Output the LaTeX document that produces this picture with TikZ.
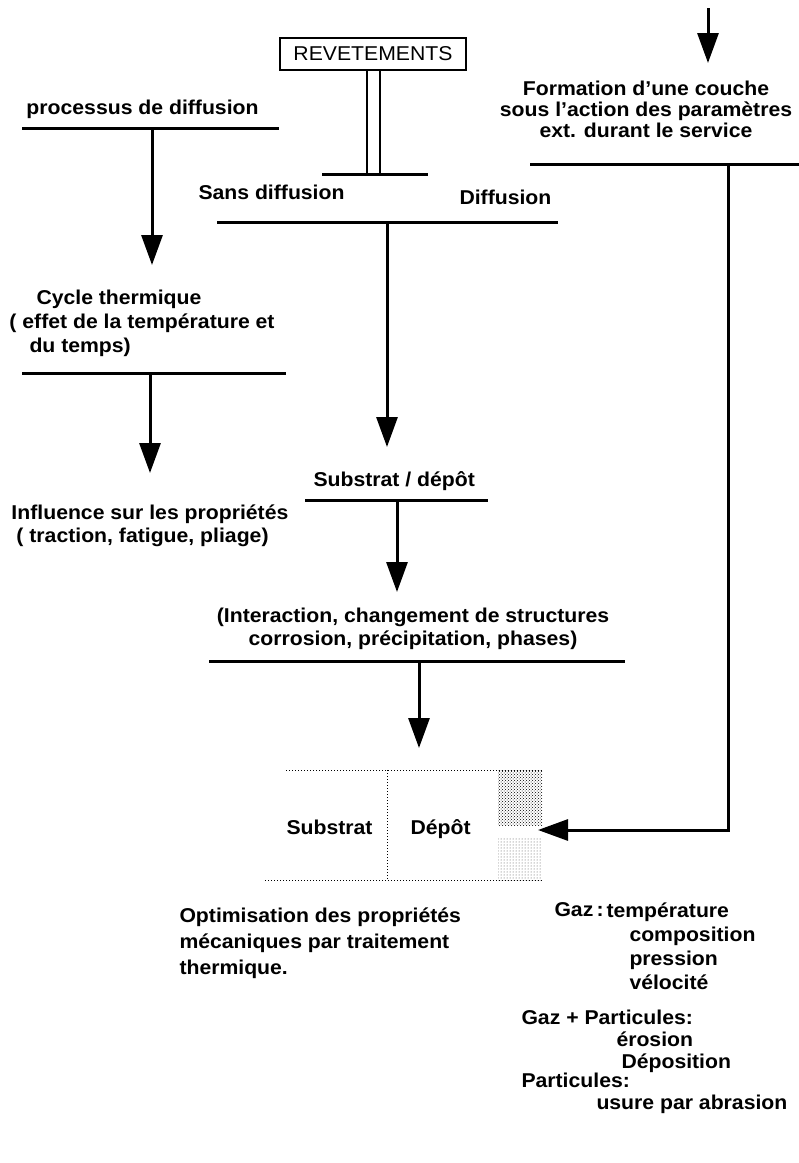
\documentclass[tikz,border=0pt]{standalone}
\usepackage{fontspec}
\setmainfont{Liberation Sans}[FakeStretch=1.06]
\usetikzlibrary{arrows.meta,patterns}
\begin{document}
\begin{tikzpicture}[x=1pt,y=-1pt,line width=3pt,
		font=\bfseries\fontsize{20}{24}\selectfont,
		fl/.style={-{Triangle[length=30pt,width=21pt]}},
		lbl/.style={inner sep=0pt,anchor=base west},
		blk/.style={inner sep=0pt,anchor=north west,align=left}]
	\useasboundingbox (0,0) rectangle (799,1163);
	% revetements
	\node[draw,line width=2.5pt,minimum width=186pt,minimum height=32pt,inner sep=0pt,font=\mdseries\fontsize{20}{24}\selectfont] (rev) at (373,54) {REVETEMENTS};
	\draw[line width=2pt] ([xshift=-6.5pt]rev.south)--++(0,103) ([xshift=6.5pt]rev.south)--++(0,103);
	\draw (322,174)--(428,174);
	\node[lbl] (sans) at (197,199) {Sans diffusion};
	\node[lbl] (diff) at (458,204) {Diffusion};
	\draw (217,222)--(558,222);
	\draw[fl] (387,222)--(387,447);
	% colonne gauche
	\node[lbl] (proc) at (25,114) {processus de diffusion};
	\draw (22,128)--(279,128);
	\draw[fl] (152,128)--(152,265);
	\node[blk] (cyc) at (8,288.4) {\hspace{27pt}Cycle thermique\\( effet de la température et\\\hspace{20pt}du temps)};
	\draw (22,373)--(286,373);
	\draw[fl] (150,373)--(150,473);
	\node[blk,font=\bfseries\fontsize{20}{23}\selectfont] (infl) at (10,503.4) {Influence sur les propriétés\\\hspace{5pt}( traction, fatigue, pliage)};
	% milieu
	\node[lbl] (subd) at (312,486) {Substrat / dépôt};
	\draw (305,500)--(488,500);
	\draw[fl] (397,500)--(397,592);
	\node[blk,anchor=north,align=center,font=\bfseries\fontsize{20}{23}\selectfont] (inter) at (413,606.4) {(Interaction, changement de structures\\corrosion, précipitation, phases)};
	\draw (209,661)--(625,661);
	\draw[fl] (419,661)--(419,748);
	% substrat / depot
	\fill[pattern=crosshatch dots,pattern color=black] (498,770) rectangle (542,825);
	\fill[pattern=dots,pattern color=black!70] (498,838) rectangle (542,880);
	\draw[dotted,line width=1pt] (286,770)--(542,770) (265,880)--(542,880);
	\draw[dotted,line width=1pt] (387,770)--(387,880);
	\node[lbl] (subs) at (285,834) {Substrat};
	\node[lbl] (dep) at (409,834) {Dépôt};
	% parametres exterieurs
	\draw[fl] (708,8)--(708,63);
	\node[blk,anchor=north,align=center,font=\bfseries\fontsize{20}{21}\selectfont] (form) at (646,79.4) {Formation d'une couche\\sous l'action des paramètres\\ext. durant le service};
	\draw (530,164)--(799,164);
	\draw[fl] (728,164)|-(538,830);
	% textes du bas
	\node[blk,font=\bfseries\fontsize{20}{26}\selectfont] (opt) at (178,906.4) {Optimisation des propriétés\\mécaniques par traitement\\thermique.};
	\node[lbl] (gaz) at (553,916) {Gaz\,:};
	\node[blk] (gazl) at (605,901.4) {température\\\hspace{23pt}composition\\\hspace{23pt}pression\\\hspace{23pt}vélocité};
	\node[blk,font=\bfseries\fontsize{20}{22}\selectfont] (part) at (520,1008.4) {Gaz + Particules:\\\hspace{95pt}érosion\\\hspace{100pt}Déposition\\[-3pt]Particules:\\\hspace{75pt}usure par abrasion};
\end{tikzpicture}
\end{document}
